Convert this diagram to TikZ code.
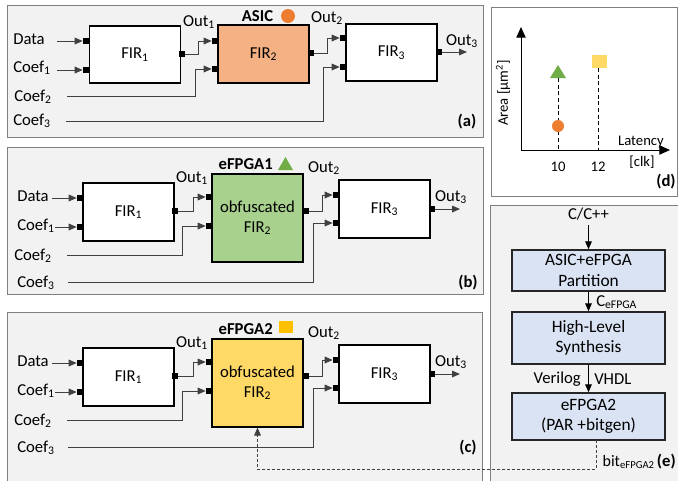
\documentclass[tikz,border=0pt]{standalone}
\usepackage{fontspec}
\setmainfont{Carlito}
\usetikzlibrary{arrows.meta,shapes.geometric}
\definecolor{panelbg}{HTML}{F2F2F2}
\definecolor{panelln}{HTML}{7F7F7F}
\definecolor{asicfill}{HTML}{F4B183}
\definecolor{greenfill}{HTML}{A9D18E}
\definecolor{yellowfill}{HTML}{FFD966}
\definecolor{orangemk}{HTML}{ED7D31}
\definecolor{greenmk}{HTML}{70AD47}
\definecolor{yellowmk}{HTML}{FFC000}
\definecolor{yellowlt}{HTML}{FFD966}
\definecolor{flowfill}{HTML}{DAE3F3}
\definecolor{wire}{HTML}{404040}

\newcommand{\obfpanel}[6]{%
\begin{scope}[shift={(0,#6)}]
  \node[firbox, minimum height=43.5pt] (#1f1) at (128.5,212) {FIR\textsubscript{1}};
  \node[firbox, fill=#2, minimum height=66pt] (#1f2) at (257.5,218) {obfuscated\\FIR\textsubscript{2}};
  \node[firbox, minimum height=43.5pt] (#1f3) at (384.5,209) {FIR\textsubscript{3}};
  \node[port] (#1i1) at (80,198) {};
  \node[port] (#1i2) at (80,227) {};
  \node[port] (#1o1) at (175,211) {};
  \node[port] (#1j1) at (209,197) {};
  \node[port] (#1j2) at (209,226) {};
  \node[port] (#1o2) at (305.5,211) {};
  \node[port] (#1k1) at (336,195) {};
  \node[port] (#1k2) at (336,223) {};
  \node[port] (#1o3) at (432,209) {};
  \node[lbl] (#1Ld) at (17,196) {Data};
  \node[lbl] (#1Lc1) at (17,226) {Coef\textsubscript{1}};
  \node[lbl] (#1Lc2) at (14,256) {Coef\textsubscript{2}};
  \node[lbl] (#1Lc3) at (17,283) {Coef\textsubscript{3}};
  \coordinate (#1sd) at (52,198);
  \coordinate (#1sc1) at (55,227);
  \coordinate (#1sc2) at (67,255);
  \coordinate (#1sc3) at (68,282);
  \coordinate (#1e3) at (460,209);
  \draw[sigarr] (#1sd) -- (#1i1.west);
  \draw[sigarr] (#1sc1) -- (#1i2.west);
  \draw[sigarr] (#1o1.east) -| (193,197) -- (#1j1.west);
  \draw[sigarr] (#1sc2) -| (182,226) -- (#1j2.west);
  \draw[sigarr] (#1o2.east) -| (322,195) -- (#1k1.west);
  \draw[sigarr] (#1sc3) -| (313,223) -- (#1k2.west);
  \draw[sigarr] (#1o3.east) -- (#1e3);
  \node (#1Lo1) at (192,178) {Out\textsubscript{1}};
  \node (#1Lo2) at (324,168) {Out\textsubscript{2}};
  \node (#1Lo3) at (451,197) {Out\textsubscript{3}};
  \node[tag, anchor=east] (#1T) at (273,164) {#3};
  #4
  \node[tag] (#1P) at (468,283) {(#5)};
\end{scope}}

\begin{document}
\begin{tikzpicture}[x=0.75pt,y=-0.75pt, font=\fontsize{12.5}{15}\selectfont,
 panel/.style={draw=panelln, fill=panelbg, line width=0.75pt},
 wpanel/.style={draw=panelln, fill=white, line width=0.75pt},
 firbox/.style={draw=black, line width=0.8pt, fill=white, minimum width=68.25pt, inner sep=0pt, align=center},
 port/.style={fill=black, minimum size=4.5pt, inner sep=0pt, draw=none},
 sig/.style={draw=wire, line width=0.75pt},
 sigarr/.style={sig, -{Triangle[length=6pt,width=5pt]}},
 lbl/.style={inner sep=0pt, anchor=west},
 tag/.style={font=\fontsize{12.5}{15}\selectfont\bfseries, inner sep=0pt},
 flowbox/.style={draw=black!85, line width=1.1pt, fill=flowfill, minimum width=114.75pt, align=center, inner sep=0pt, font=\fontsize{13}{15.5}\selectfont},
 blk/.style={draw=black, line width=0.75pt, -{Triangle[length=6pt,width=5pt]}},
]
\useasboundingbox (0,0) rectangle (678,480);

% ---------------- panel (a)
\draw[panel] (7,5) rectangle (483,137);
\node[firbox, minimum height=42.75pt] (a1) at (135,54.5) {FIR\textsubscript{1}};
\node[firbox, fill=asicfill, minimum height=43.5pt] (a2) at (263.5,54) {FIR\textsubscript{2}};
\node[firbox, minimum height=42.75pt] (a3) at (391.5,52.5) {FIR\textsubscript{3}};
\node[port] (ai1) at (86,41) {};
\node[port] (ai2) at (86,70) {};
\node[port] (ao1) at (182,54) {};
\node[port] (aj1) at (215,41) {};
\node[port] (aj2) at (215,69) {};
\node[port] (ao2) at (311,53) {};
\node[port] (ak1) at (343,38) {};
\node[port] (ak2) at (343,67) {};
\node[port] (ao3) at (438.5,52) {};
\node[lbl] (aLd) at (13,39) {Data};
\node[lbl] (aLc1) at (13,68) {Coef\textsubscript{1}};
\node[lbl] (aLc2) at (14,97) {Coef\textsubscript{2}};
\node[lbl] (aLc3) at (13,121) {Coef\textsubscript{3}};
\coordinate (asd) at (57,41);
\coordinate (asc1) at (57,70);
\coordinate (asc2) at (67,96);
\coordinate (asc3) at (66,121);
\coordinate (ae3) at (467,52);
\draw[sigarr] (asd) -- (ai1.west);
\draw[sigarr] (asc1) -- (ai2.west);
\draw[sigarr] (ao1.east) -| (198,41) -- (aj1.west);
\draw[sigarr] (asc2) -| (195,69) -- (aj2.west);
\draw[sigarr] (ao2.east) -| (327,38) -- (ak1.west);
\draw[sigarr] (asc3) -| (323,67) -- (ak2.west);
\draw[sigarr] (ao3.east) -- (ae3);
\node (aLo1) at (199,22) {Out\textsubscript{1}};
\node (aLo2) at (327,18) {Out\textsubscript{2}};
\node (aLo3) at (462,41) {Out\textsubscript{3}};
\node[tag] (aT) at (257.5,16) {ASIC};
\node[circle, fill=orangemk, minimum size=10.5pt, inner sep=0pt] (aM) at (288,16) {};
\node[tag] (aP) at (467,122) {(a)};

% ---------------- panel (b)
\draw[panel] (7,147) rectangle (483,294);
\obfpanel{b}{greenfill}{eFPGA1}{\fill[greenmk] (278,170) -- (293,170) -- (285.5,157) -- cycle;}{b}{0}

% ---------------- panel (c)
\draw[panel] (7,312) rectangle (482,483);
\obfpanel{c}{yellowfill}{eFPGA2}{\fill[yellowmk] (279,156) rectangle (293,168);}{c}{165}

% ---------------- panel (d)
\begin{scope}[font=\fontsize{11}{13}\selectfont]
\draw[wpanel] (491,7) rectangle (677.5,196);
\coordinate (dO) at (521,150);
\coordinate (dY) at (521,27);
\coordinate (dX) at (670,150);
\draw[blk, -{Triangle[length=8pt,width=7pt]}] (dO) -- (dY);
\draw[blk, -{Triangle[length=8pt,width=7pt]}] (dO) -- (dX);
\draw[black, line width=0.75pt, dash pattern=on 3pt off 2pt] (558,78) -- (558,150);
\draw[black, line width=0.75pt, dash pattern=on 3pt off 2pt] (598,68) -- (598,150);
\fill[greenmk] (550,78) -- (566,78) -- (558,65) -- cycle;
\node[circle, fill=orangemk, minimum size=9pt, inner sep=0pt] (dC) at (558,126) {};
\fill[yellowlt] (592,55) rectangle (607,68);
\node (d10) at (558,167) {10};
\node (d12) at (598,167) {12};
\node (dLat) at (641,142) {Latency};
\node (dClk) at (642,162) {[clk]};
\node[rotate=90] (dArea) at (503,93) {Area [µm\textsuperscript{2}]};
\node[tag] (dP) at (666,182) {(d)};
\end{scope}

% ---------------- panel (e)
\draw[panel] (490,205) rectangle (680,483);
\node (eIn) at (588.5,214) {C/C++};
\node[flowbox, minimum height=30.75pt] (e1) at (588.5,270.5) {ASIC+eFPGA\\Partition};
\node[flowbox, minimum height=39pt] (e2) at (588.5,338) {High-Level\\Synthesis};
\node[flowbox, minimum height=35.25pt] (e3) at (588.5,416.5) {eFPGA2\\(PAR +bitgen)};
\draw[blk] (eIn) -- (e1);
\draw[blk] (e1) -- (e2);
\draw[blk] (e2) -- (e3);
\node[lbl] (eC) at (596,302) {C\textsubscript{eFPGA}};
\node[anchor=east, inner sep=0pt] (eVer) at (581,379) {Verilog};
\node[lbl] (eVh) at (594,379) {VHDL};
\node[tag, anchor=east] (eP) at (676,462) {(e)};
\node[anchor=east, inner sep=0pt, font=\fontsize{12}{14}\selectfont] (eBit) at (655,462) {bit\textsubscript{eFPGA2}};
\coordinate (bitsrc) at (596,440);
\coordinate (bitcorner) at (596,469);
\draw[sig, dash pattern=on 2.25pt off 1.5pt, -{Triangle[length=6pt,width=5pt]}] (bitsrc) -- (bitcorner) -| (cf2.south);
\end{tikzpicture}
\end{document}
